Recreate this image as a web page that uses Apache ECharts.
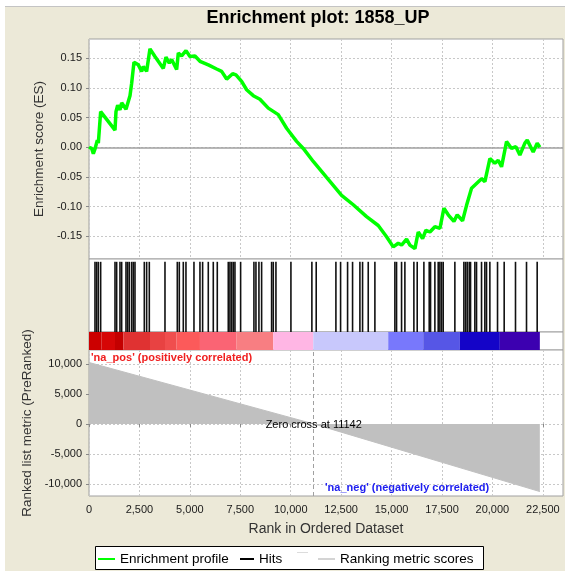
<!DOCTYPE html>
<html>
<head>
<meta charset="utf-8">
<script src="https://cdn.jsdelivr.net/npm/echarts@6/dist/echarts.min.js"></script>
<style>
html, body { margin: 0; padding: 0; background: #fff; }
#chart { width: 565px; height: 571px; }
</style>
</head>
<body>
<div id="chart"></div>
<script>
// running enrichment score
var esRank = [0, 132, 215, 297, 413, 463, 578, 1289, 1338, 1421, 1537, 1620, 1835, 2032, 2115, 2230,
  2445, 2610, 2692, 2857, 3023, 3270, 3684, 3816, 3981, 4097, 4345, 4428, 4593, 4808, 5006, 5254,
  5502, 5915, 6328, 6576, 6824, 7121, 7286, 7567, 7815, 8145, 8475, 8888, 9384, 9797, 10292, 10623,
  11118, 11779, 12523, 13101, 13762, 14340, 14753, 15084, 15332, 15497, 15745, 15910, 16158, 16323,
  16538, 16703, 16901, 17149, 17397, 17595, 17810, 18091, 18256, 18520, 18719, 18966, 19214, 19462,
  19627, 19875, 20123, 20288, 20453, 20701, 20949, 21164, 21362, 21610, 21726, 22023, 22221, 22353];
var esScore = [0.000, -0.002, -0.011, -0.003, 0.012, 0.007, 0.060, 0.029, 0.060, 0.071, 0.063, 0.075, 0.064, 0.087, 0.108, 0.1435,
  0.139, 0.128, 0.136, 0.128, 0.166, 0.153, 0.133, 0.152, 0.142, 0.148, 0.131, 0.159, 0.154, 0.163, 0.153, 0.154,
  0.145, 0.139, 0.132, 0.128, 0.115, 0.124, 0.122, 0.111, 0.097, 0.087, 0.081, 0.066, 0.055, 0.032, 0.010, -0.002,
  -0.024, -0.051, -0.081, -0.097, -0.117, -0.132, -0.151, -0.168, -0.162, -0.165, -0.155, -0.165, -0.171, -0.143,
  -0.154, -0.140, -0.143, -0.134, -0.137, -0.103, -0.114, -0.125, -0.114, -0.124, -0.098, -0.069, -0.061, -0.053,
  -0.058, -0.019, -0.027, -0.022, -0.033, 0.0095, -0.002, 0.001, -0.013, 0.007, 0.012, -0.008, 0.007, 0.000];

// positions of the gene set members in the ranked list
var hitRank = [297, 380, 463, 578, 1289, 1371, 1536, 1619, 1834, 1916, 1999, 2115, 2197, 2280, 2742, 2858,
  2990, 3767, 4378, 4477, 4675, 4807, 5204, 5501, 5633, 5914, 6162, 6360, 6905, 6988, 7071, 7153, 7236,
  7517, 8177, 8277, 8425, 8558, 9053, 9136, 9268, 10011, 11050, 11265, 12241, 12473, 12820, 13067, 13431,
  13563, 13844, 14174, 15165, 15248, 15496, 15661, 16107, 16272, 16603, 16867, 16933, 17148, 17313, 17396,
  17478, 17561, 18139, 18585, 18668, 18750, 18850, 18916, 19130, 19213, 19461, 19626, 19708, 19874, 20254,
  20584, 21145, 21691, 22220];

// colour bar bands (rank edges)
var bandEdge = [0, 627, 1289, 1701, 3023, 3767, 4345, 5501, 7318, 9135, 11118, 14835, 16570, 18387, 20369, 22352];
var bandColor = ['#cc0000', '#d60606', '#c40000', '#e03232', '#e84242', '#f04e4e', '#fc5a5a', '#fa6474',
  '#f87e82', '#ffb6e4', '#c8c8fc', '#7878fc', '#5656e6', '#1404c8', '#3c00b0'];

// ranked list metric
var metricRank = [0, 11142, 22352];
var metricScore = [10250, 0, -11280];
var zeroCross = 11142;

var rankTicks = [0, 2500, 5000, 7500, 10000, 12500, 15000, 17500, 20000, 22500];
var esTicks = [-0.15, -0.10, -0.05, 0, 0.05, 0.10, 0.15];
var metricTicks = [-10000, -5000, 0, 5000, 10000];

var FONT = '"Liberation Sans", Arial, sans-serif';
var GRID_LINE = { show: true, lineStyle: { color: '#c8c8c8', type: [2, 2], width: 1 } };

function commas(v) {
  return String(v).replace(/\B(?=(\d{3})+(?!\d))/g, ',');
}

var chartDom = document.getElementById('chart');
var myChart = echarts.init(chartDom);
var option;

function xAxisFor(gridIndex, showLabels, showGrid) {
  return {
    type: 'value', gridIndex: gridIndex, min: 0, max: 23500,
    axisLine: { show: false },
    axisTick: { show: showLabels, customValues: rankTicks, length: 3, lineStyle: { color: '#888' } },
    axisLabel: { show: showLabels, customValues: rankTicks, formatter: commas, color: '#1a1a1a', fontSize: 11, margin: 8 },
    splitLine: showGrid ? GRID_LINE : { show: false },
    name: showLabels ? 'Rank in Ordered Dataset' : '',
    nameLocation: 'middle', nameGap: 26,
    nameTextStyle: { color: '#333', fontSize: 14 }
  };
}

function grid(top, height) {
  return {
    left: 89, right: 2, top: top, height: height,
    show: true, backgroundColor: '#fff', borderColor: '#a0a0a0', borderWidth: 1,
    outerBoundsMode: 'none'
  };
}

option = {
  animation: false,
  backgroundColor: '#ECE9D8',
  textStyle: { fontFamily: FONT },
  grid: [grid(39, 220), grid(259, 73), grid(332, 18), grid(350, 146)],
  xAxis: [xAxisFor(0, false, true), xAxisFor(1, false, false), xAxisFor(2, false, false), xAxisFor(3, true, true)],
  yAxis: [
    {
      type: 'value', gridIndex: 0, min: -0.1885, max: 0.1826,
      axisLine: { show: false },
      axisTick: { show: true, customValues: esTicks, length: 3, lineStyle: { color: '#888' } },
      axisLabel: { customValues: esTicks, formatter: function (v) { return v.toFixed(2); }, color: '#1a1a1a', fontSize: 11, margin: 7 },
      splitLine: GRID_LINE,
      name: 'Enrichment score (ES)', nameLocation: 'middle', nameGap: 41,
      nameTextStyle: { color: '#333', fontSize: 13.5 }
    },
    { type: 'value', gridIndex: 1, min: 0, max: 1.04, show: false },
    { type: 'value', gridIndex: 2, min: 0, max: 1, show: false },
    {
      type: 'value', gridIndex: 3, min: -12020, max: 12330,
      axisLine: { show: false },
      axisTick: { show: true, customValues: metricTicks, length: 3, lineStyle: { color: '#888' } },
      axisLabel: { customValues: metricTicks, formatter: commas, color: '#1a1a1a', fontSize: 11, margin: 7 },
      splitLine: GRID_LINE,
      name: 'Ranked list metric (PreRanked)', nameLocation: 'middle', nameGap: 41,
      nameTextStyle: { color: '#333', fontSize: 13.5 }
    }
  ],
  legend: [
    { data: ['Enrichment profile'], left: 98, top: 552, padding: 0, itemWidth: 17, itemHeight: 2, icon: 'rect',
      selectedMode: false, textStyle: { fontSize: 13.5, color: '#000' } },
    { data: ['Hits'], left: 240, top: 552, padding: 0, itemWidth: 14, itemHeight: 2, icon: 'rect',
      selectedMode: false, textStyle: { fontSize: 13.5, color: '#000' } },
    { data: [{ name: 'Ranking metric scores', itemStyle: { color: '#d4d4d4' } }], left: 318, top: 552, padding: 0,
      itemWidth: 17, itemHeight: 2, icon: 'rect', selectedMode: false, textStyle: { fontSize: 13.5, color: '#000' } }
  ],
  graphic: [
    { type: 'rect', shape: { x: 0, y: 0, width: 565, height: 6 }, style: { fill: '#fff' }, silent: true },
    { type: 'rect', shape: { x: 0, y: 0, width: 5, height: 571 }, style: { fill: '#fff' }, silent: true },
    { type: 'line', shape: { x1: 5, y1: 6.5, x2: 565, y2: 6.5 }, style: { stroke: '#c4c4c4', lineWidth: 1 }, silent: true },
    { type: 'text', x: 318, y: 18, style: { text: 'Enrichment plot: 1858_UP', font: 'bold 18px ' + FONT,
      fill: '#000', textAlign: 'center', textVerticalAlign: 'middle' } },
    { type: 'text', x: 91, y: 357.5, z: 10, style: { text: "'na_pos' (positively correlated)", font: 'bold 11px ' + FONT,
      fill: '#f02020', textAlign: 'left', textVerticalAlign: 'middle' } },
    { type: 'text', x: 325, y: 488, z: 10, style: { text: "'na_neg' (negatively correlated)", font: 'bold 11px ' + FONT,
      fill: '#2020f0', textAlign: 'left', textVerticalAlign: 'middle' } },
    { type: 'rect', shape: { x: 95.5, y: 546.5, width: 388, height: 23 }, style: { fill: '#fff', stroke: '#000', lineWidth: 1 }, silent: true },
    { type: 'line', shape: { x1: 297, y1: 552.5, x2: 308, y2: 552.5 }, style: { stroke: '#dcdcdc', lineWidth: 1 }, silent: true }
  ],
  series: [
    {
      name: 'Enrichment profile', type: 'line', xAxisIndex: 0, yAxisIndex: 0, z: 3,
      data: esRank.map(function (r, i) { return [r, esScore[i]]; }),
      symbol: 'none', lineStyle: { color: '#00ff00', width: 3.5 }, itemStyle: { color: '#00ff00' },
      markLine: {
        z: 1, silent: true, symbol: ['none', 'none'], label: { show: false },
        lineStyle: { color: '#a0a0a0', type: 'solid', width: 1.5 },
        data: [{ yAxis: 0 }]
      }
    },
    {
      name: 'Hits', type: 'custom', xAxisIndex: 1, yAxisIndex: 1,
      data: hitRank.map(function (r) { return [r, 1]; }),
      encode: { x: 0, y: 1 },
      itemStyle: { color: '#000' },
      renderItem: function (params, api) {
        var top = api.coord([api.value(0), 1]);
        var bot = api.coord([api.value(0), 0]);
        return { type: 'line', shape: { x1: top[0], y1: top[1], x2: bot[0], y2: bot[1] },
          style: { stroke: '#111', lineWidth: 1.6 } };
      }
    },
    {
      name: 'bands', type: 'custom', xAxisIndex: 2, yAxisIndex: 2,
      data: bandColor.map(function (c, i) { return [bandEdge[i], bandEdge[i + 1], i]; }),
      encode: { x: [0, 1] },
      renderItem: function (params, api) {
        var p0 = api.coord([api.value(0), 1]);
        var p1 = api.coord([api.value(1), 0]);
        return { type: 'rect', shape: { x: p0[0], y: p0[1], width: p1[0] - p0[0], height: p1[1] - p0[1] },
          style: { fill: bandColor[api.value(2)] } };
      }
    },
    {
      name: 'Ranking metric scores', type: 'line', xAxisIndex: 3, yAxisIndex: 3,
      data: metricRank.map(function (r, i) { return [r, metricScore[i]]; }),
      symbol: 'none', lineStyle: { color: '#c0c0c0', width: 1 }, itemStyle: { color: '#d4d4d4' },
      areaStyle: { color: '#c0c0c0', opacity: 1 },
      markLine: {
        silent: true, symbol: ['none', 'none'], label: { show: false },
        lineStyle: { color: '#a0a0a0', type: [4, 3], width: 1 },
        data: [{ xAxis: zeroCross }]
      },
      markPoint: {
        silent: true, symbol: 'circle', symbolSize: 1, itemStyle: { color: 'rgba(0,0,0,0)' },
        label: { show: true, position: 'inside', offset: [0, 1], color: '#000', fontSize: 11,
          formatter: 'Zero cross at ' + zeroCross },
        data: [{ coord: [zeroCross, 0] }]
      }
    }
  ]
};

option && myChart.setOption(option);
</script>
</body>
</html>
